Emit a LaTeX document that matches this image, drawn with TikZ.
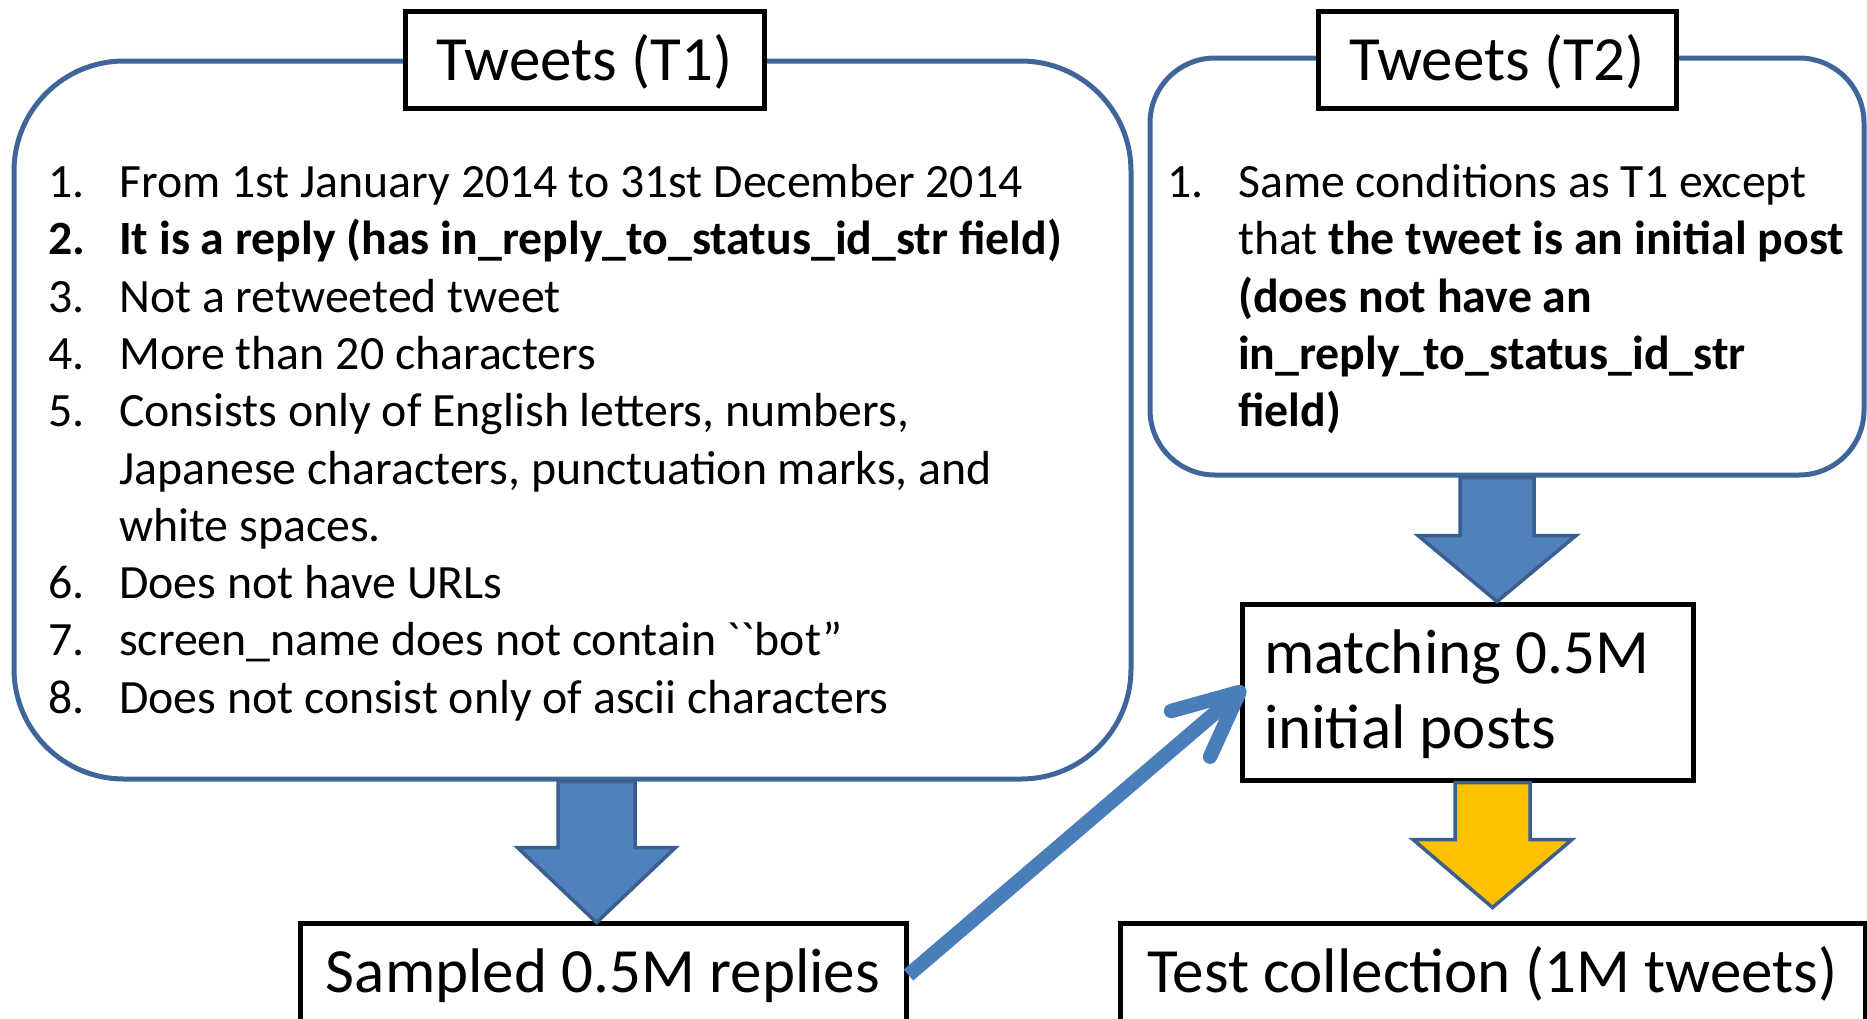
\documentclass[tikz,border=0pt]{standalone}
\usepackage{fontspec}
\newfontfamily\calib{Carlito}
\usetikzlibrary{calc}
\definecolor{framecol}{HTML}{3F6699}
\definecolor{arrowfill}{HTML}{4F81BD}
\definecolor{arrowline}{HTML}{3A5F8F}
\definecolor{diagcol}{HTML}{4A7EBB}
\definecolor{yellowfill}{HTML}{FFC000}
% block arrow: style, top coordinate, tip coordinate, shoulder height above tip, shaft half width, head half width
\newcommand{\myblockarrow}[6]{%
  \path let \p1=(#2), \p2=(#3) in [#1]
    (\x1-#5pt,\y1) -- (\x1+#5pt,\y1) -- (\x1+#5pt,\y2+#4pt) -- (\x1+#6pt,\y2+#4pt)
    -- (\x1,\y2) -- (\x1-#6pt,\y2+#4pt) -- (\x1-#5pt,\y2+#4pt) -- cycle;}
\begin{document}
\begin{tikzpicture}[x=1pt,y=-1pt,
  roundframe/.style={draw=framecol, line width=5pt, rounded corners=#1, inner sep=0pt},
  labelbox/.style={draw=black, line width=5pt, fill=white, inner sep=0pt, minimum height=97pt,
    font=\calib\fontsize{63}{75}\selectfont, text height=55pt, text depth=14pt},
  outbox/.style={draw=black, line width=5pt, fill=white, inner sep=0pt,
    font=\calib\fontsize{63}{75}\selectfont, text height=48pt, text depth=14pt},
  listtext/.style={inner sep=0pt, anchor=base west, font=\calib\fontsize{47.8}{57.3}\selectfont},
  bluearrow/.style={draw=arrowline, line width=3.5pt, fill=arrowfill},
  yellowarrow/.style={draw=arrowline, line width=3.5pt, fill=yellowfill},
  diag/.style={draw=diagcol, line width=14.5pt, line cap=round, line join=round}]
\useasboundingbox (0,0) rectangle (1867,1018);
\fill[white] (0,0) rectangle (1867,1018);

% rounded frames
\node[roundframe=110pt, minimum width=1117pt, minimum height=718pt] (t1box) at (572.5,420) {};
\node[roundframe=65pt, minimum width=714pt, minimum height=417pt] (t2box) at (1507,266.5) {};

% labels
\node[labelbox, minimum width=359pt] (t1lab) at (584.5,59.5) {Tweets (T1)};
\node[labelbox, minimum width=358pt] (t2lab) at (1497,59.5) {Tweets (T2)};

% lists
\node[listtext] (t1list) at (48,197.5) {\begin{tabular}[t]{@{}p{71pt}@{}l@{}}
1. & From 1st January 2014 to 31st December 2014\\
\textbf{2.} & \textbf{It is a reply (has in\_reply\_to\_status\_id\_str field)}\\
3. & Not a retweeted tweet\\
4. & More than 20 characters\\
5. & Consists only of English letters, numbers,\\
   & Japanese characters, punctuation marks, and\\
   & white spaces.\\
6. & Does not have URLs\\
7. & screen\_name does not contain ``bot”\\
8. & Does not consist only of ascii characters
\end{tabular}};

\node[listtext] (t2list) at (1167,197.5) {\begin{tabular}[t]{@{}p{71pt}@{}l@{}}
1. & Same conditions as T1 except\\
   & that \textbf{the tweet is an initial post}\\
   & \textbf{(does not have an}\\
   & \textbf{in\_reply\_to\_status\_id\_str}\\
   & \textbf{field)}
\end{tabular}};

% result boxes
\node[outbox, minimum width=606pt, minimum height=104pt] (samp) at (603,975) {Sampled 0.5M replies};
\node[outbox, minimum width=745pt, minimum height=104pt] (test) at (1492.5,975) {Test collection (1M tweets)};
\node[outbox, minimum width=451pt, minimum height=176pt, text height=52.5pt, text depth=90.5pt] (match) at (1467.5,692)
  {\makebox[407pt][l]{\begin{tabular}[t]{@{}l@{}}matching 0.5M\\initial posts\end{tabular}}};

% block arrows
\coordinate (a1top) at ($(t1box.south)+(24,0)$);
\coordinate (a1tip) at ($(a1top |- samp.north)+(0,2)$);
\coordinate (a2top) at ($(t2box.south)+(-10,0)$);
\coordinate (a2tip) at (a2top |- match.north);
\coordinate (a3top) at ($(match.south)+(25,0)$);
\coordinate (a3tip) at ($(a3top |- test.north)+(0,-13)$);
\myblockarrow{bluearrow}{a1top}{a1tip}{75}{38.5}{79}
\myblockarrow{bluearrow}{a2top}{a2tip}{66}{37}{79}
\myblockarrow{yellowarrow}{a3top}{a3tip}{68}{37.5}{79.5}

% diagonal arrow
\draw[diag, line cap=butt] (samp.east) -- (match.west);
\draw[diag] ($(match.west)!71pt!25:(samp.east)$) -- (match.west) -- ($(match.west)!71pt!-25:(samp.east)$);
\end{tikzpicture}
\end{document}
